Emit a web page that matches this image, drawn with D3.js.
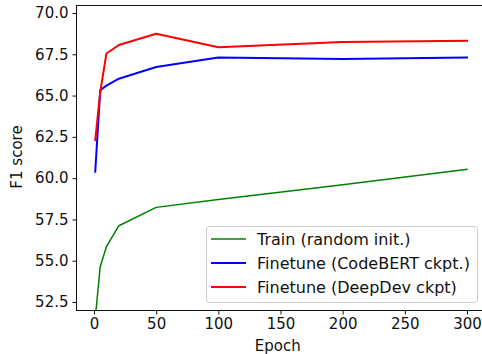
<!DOCTYPE html>
<html><head><meta charset="utf-8">
<script src="https://cdn.jsdelivr.net/npm/d3@7"></script>
<style>body{margin:0;background:#fff;} svg{display:block;font-family:"DejaVu Sans",sans-serif;}</style>
</head><body>
<script>
const epochs = [1, 5, 10, 20, 50, 100, 200, 300];
const trainRandom = [51.5, 54.64, 55.85, 57.12, 58.23, 58.7, 59.6, 60.53];
const finetuneCodeBERT = [60.39, 65.33, 65.6, 66.02, 66.73, 67.31, 67.21, 67.31];
const finetuneDeepDev = [62.31, 65.2, 67.55, 68.06, 68.74, 67.92, 68.24, 68.32];
const seriesNames = ["Train (random init.)", "Finetune (CodeBERT ckpt.)", "Finetune (DeepDev ckpt)"];
const seriesColors = ["green", "blue", "red"];
const seriesWidths = [1.5, 2, 2];
const xTicks = [0, 50, 100, 150, 200, 250, 300];
const yTicks = [52.5, 55.0, 57.5, 60.0, 62.5, 65.0, 67.5, 70.0];

const W = 482, H = 354;
const L = 76.5, T = 5.5, R = 485, B = 310.5;
const svg = d3.select("body").append("svg").attr("width", W).attr("height", H);
const x = d3.scaleLinear().domain([0, 300]).range([94, 467]);
const y = d3.scaleLinear().domain([52.5, 70]).range([302, 13]);

svg.append("defs").append("clipPath").attr("id","clip").append("rect")
  .attr("x", L).attr("y", T).attr("width", R - L).attr("height", B - T);

const allSeries = [trainRandom, finetuneCodeBERT, finetuneDeepDev];
const line = d3.line().x((d,i)=>x(epochs[i])).y(d=>y(d));
const g = svg.append("g").attr("clip-path","url(#clip)");
allSeries.forEach((s,k)=>{
  g.append("path").datum(s).attr("d", line).attr("fill","none")
   .attr("stroke", seriesColors[k]).attr("stroke-width", seriesWidths[k])
   .attr("stroke-linejoin","round").attr("stroke-linecap","square");
});

// spines
svg.append("rect").attr("x", L).attr("y", T).attr("width", R - L).attr("height", B - T)
  .attr("fill","none").attr("stroke","#111").attr("stroke-width",1);

const xAxis = svg.append("g").attr("transform",`translate(0,${B})`)
  .call(d3.axisBottom(x).tickValues(xTicks).tickSize(4).tickPadding(4).tickFormat(d3.format("d")));
xAxis.select(".domain").remove();
const yAxis = svg.append("g").attr("transform",`translate(${L},0)`)
  .call(d3.axisLeft(y).tickValues(yTicks).tickSize(4).tickPadding(4).tickFormat(d3.format(".1f")));
yAxis.select(".domain").remove();
[xAxis, yAxis].forEach(a=>{
  a.selectAll("text").attr("font-size", 15).attr("font-family","DejaVu Sans").attr("fill","#111");
  a.selectAll("line").attr("stroke","#111");
});

svg.append("text").attr("x", (L+R)/2 - 3).attr("y", 351).attr("text-anchor","middle")
  .attr("font-size", 15).attr("fill","#111").text("Epoch");
svg.append("text").attr("transform","translate(22,157) rotate(-90)").attr("text-anchor","middle")
  .attr("font-size", 15).attr("fill","#111").text("F1 score");

// legend
const lg = svg.append("g");
lg.append("rect").attr("x", 206.5).attr("y", 226.5).attr("width", 271).attr("height", 76)
  .attr("rx", 3).attr("fill","#fff").attr("fill-opacity",0.8).attr("stroke","#ccc");
const rowsY = [239, 263, 287];
seriesNames.forEach((n,k)=>{
  lg.append("line").attr("x1", 211).attr("x2", 246).attr("y1", rowsY[k]).attr("y2", rowsY[k])
    .attr("stroke", seriesColors[k]).attr("stroke-width", seriesWidths[k]);
  lg.append("text").attr("x", 257).attr("y", rowsY[k]).attr("dy","0.35em")
    .attr("font-size", 16).attr("fill","#111").text(n);
});
</script>
</body></html>
